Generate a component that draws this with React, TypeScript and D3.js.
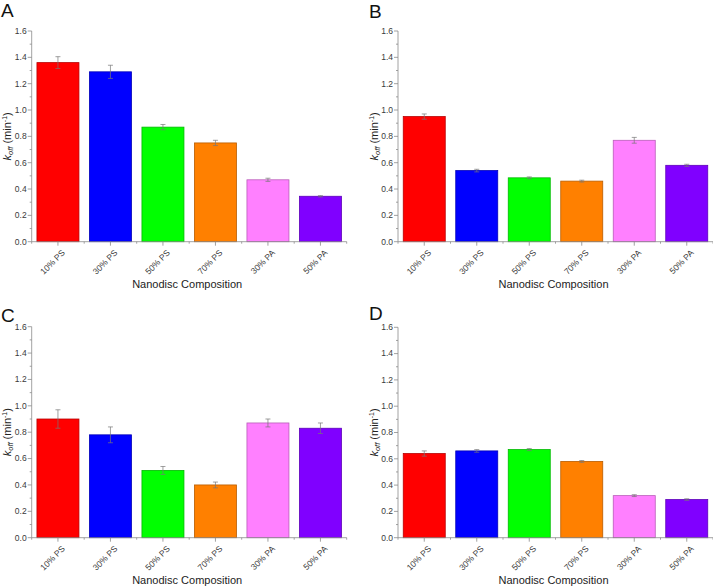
import React from "react";
import * as d3 from "d3";

const categories = ["10% PS", "30% PS", "50% PS", "70% PS", "30% PA", "50% PA"];
const barColors = ["#ff0000", "#0000ff", "#00ff00", "#ff8000", "#ff80ff", "#8000ff"];

const valuesA = [1.36, 1.29, 0.87, 0.75, 0.47, 0.345];
const errorsA = [0.045, 0.05, 0.02, 0.02, 0.012, 0.005];
const valuesB = [0.95, 0.54, 0.485, 0.46, 0.77, 0.58];
const errorsB = [0.02, 0.01, 0.007, 0.007, 0.022, 0.008];
const valuesC = [0.9, 0.78, 0.51, 0.4, 0.87, 0.83];
const errorsC = [0.07, 0.06, 0.03, 0.022, 0.03, 0.04];
const valuesD = [0.64, 0.66, 0.67, 0.58, 0.32, 0.29];
const errorsD = [0.02, 0.01, 0.008, 0.007, 0.007, 0.006];

const yTicks = [0, 0.2, 0.4, 0.6, 0.8, 1.0, 1.2, 1.4, 1.6];
const yMinorTicks = [0.1, 0.3, 0.5, 0.7, 0.9, 1.1, 1.3, 1.5];
const xTitle = "Nanodisc Composition";

const FONT = "'Liberation Sans', Arial, sans-serif";
const AXIS = "#8a8a8a";
const TEXT = "#3a3a3a";

type PanelProps = {
  label: string;
  values: number[];
  errors: number[];
  x0: number;
  yTop: number;
  yBottom: number;
  labelX: number;
  labelY: number;
  titleX: number;
};

function Panel({ label, values, errors, x0, yTop, yBottom, labelX, labelY, titleX }: PanelProps) {
  const width = 315;
  const x = d3.scaleBand<string>().domain(categories).range([x0, x0 + width]).paddingInner(0.2).paddingOuter(0.1);
  const y = d3.scaleLinear().domain([0, 1.6]).range([yBottom, yTop]);
  const bw = x.bandwidth();
  const step = x.step();
  const edges = categories.map((c) => (x(c) as number) - (step - bw) / 2);
  edges.push(x0 + width);
  return (
    <g fontFamily={FONT}>
      <text x={labelX} y={labelY} fontSize={19} fill="#111">{label}</text>
      {/* bars */}
      {categories.map((c, i) => (
        <rect
          key={c}
          x={x(c)}
          y={y(values[i])}
          width={bw}
          height={y(0) - y(values[i])}
          fill={barColors[i]}
          stroke={d3.color(barColors[i])!.darker(0.9).formatHex()}
          strokeWidth={0.8}
        />
      ))}
      {/* error bars */}
      {categories.map((c, i) => {
        const cx = (x(c) as number) + bw / 2;
        const t = y(values[i] + errors[i]);
        const b = y(values[i] - errors[i]);
        return (
          <g key={c} stroke="#777" strokeWidth={0.7}>
            <line x1={cx} x2={cx} y1={t} y2={b} />
            <line x1={cx - 2.5} x2={cx + 2.5} y1={t} y2={t} />
            <line x1={cx - 2.5} x2={cx + 2.5} y1={b} y2={b} />
          </g>
        );
      })}
      {/* y axis */}
      <line x1={x0} x2={x0} y1={yTop} y2={yBottom} stroke={AXIS} strokeWidth={0.8} />
      {yTicks.map((t) => (
        <g key={t}>
          <line x1={x0 - 4} x2={x0} y1={y(t)} y2={y(t)} stroke={AXIS} strokeWidth={0.8} />
          <text x={x0 - 5} y={y(t)} dy="0.34em" textAnchor="end" fontSize={8.5} fill={TEXT}>
            {t.toFixed(1)}
          </text>
        </g>
      ))}
      {yMinorTicks.map((t) => (
        <line key={t} x1={x0 - 2} x2={x0} y1={y(t)} y2={y(t)} stroke={AXIS} strokeWidth={0.8} />
      ))}
      {/* x axis */}
      <line x1={x0} x2={x0 + width} y1={yBottom} y2={yBottom} stroke={AXIS} strokeWidth={0.8} />
      {categories.map((c) => {
        const cx = (x(c) as number) + bw / 2;
        return (
          <g key={c}>
            <line x1={cx} x2={cx} y1={yBottom} y2={yBottom + 4} stroke={AXIS} strokeWidth={0.8} />
            <text
              transform={`translate(${cx + 4},${yBottom + 8}) rotate(-45)`}
              textAnchor="end"
              dy="0.6em"
              fontSize={8.5}
              fill={TEXT}
            >
              {c}
            </text>
          </g>
        );
      })}
      {edges.map((e, i) => (
        <line key={i} x1={e} x2={e} y1={yBottom} y2={yBottom + 2} stroke={AXIS} strokeWidth={0.8} />
      ))}
      {/* titles */}
      <text x={x0 + width / 2 - 2} y={yBottom + 46} textAnchor="middle" fontSize={11} fill="#222">
        {xTitle}
      </text>
      <text
        transform={`translate(${titleX},${(yTop + yBottom) / 2}) rotate(-90)`}
        textAnchor="middle"
        fontSize={11}
        fill="#222"
      >
        <tspan fontStyle="italic">k</tspan>
        <tspan fontStyle="italic" fontSize={7.5} dy={2}>off</tspan>
        <tspan dy={-2}> (min</tspan>
        <tspan fontSize={7} dy={-4}>-1</tspan>
        <tspan dy={4}>)</tspan>
      </text>
    </g>
  );
}

export default function App() {
  return (
    <svg
      width={713}
      height={586}
      style={{ position: "absolute", left: 0, top: 0, background: "#fff" }}
    >
      <rect width={713} height={586} fill="#fff" />
      <Panel label="A" values={valuesA} errors={errorsA} x0={31.7} yTop={31} yBottom={241.7} labelX={1} labelY={17} titleX={11} />
      <Panel label="B" values={valuesB} errors={errorsB} x0={398} yTop={31} yBottom={241.7} labelX={369} labelY={18} titleX={378} />
      <Panel label="C" values={valuesC} errors={errorsC} x0={31.7} yTop={326.7} yBottom={537.7} labelX={1} labelY={322} titleX={11} />
      <Panel label="D" values={valuesD} errors={errorsD} x0={398} yTop={327.3} yBottom={537.7} labelX={369} labelY={320} titleX={378} />
    </svg>
  );
}
